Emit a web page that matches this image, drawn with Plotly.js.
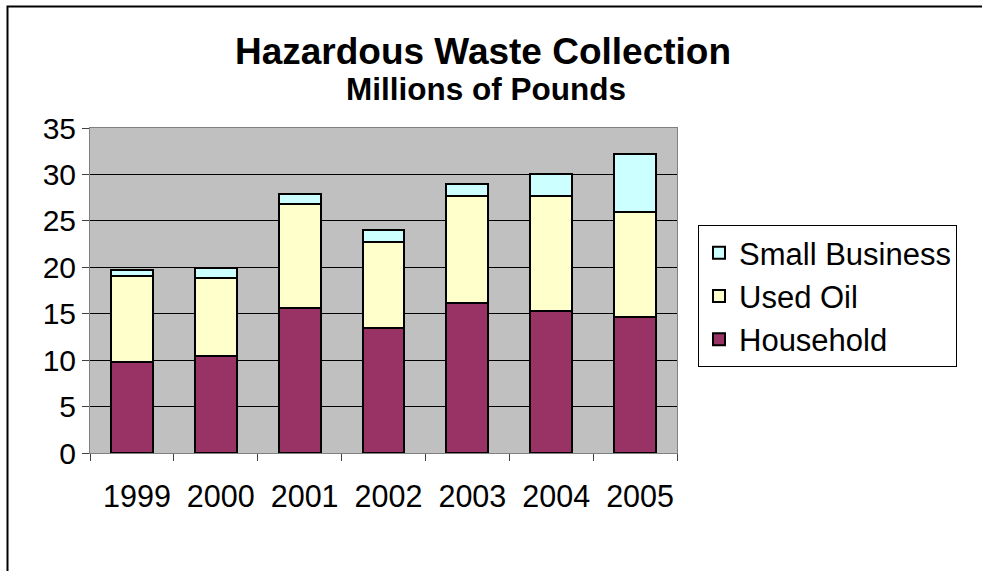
<!DOCTYPE html>
<html>
<head>
<meta charset="utf-8">
<script src="https://cdn.plot.ly/plotly-3.0.1.min.js"></script>
<style>html,body{margin:0;padding:0;background:#fff;}#chart{width:982px;height:571px;}</style>
</head>
<body>
<div id="chart"></div>
<script>
const years = ['1999', '2000', '2001', '2002', '2003', '2004', '2005'];
const household = [9.8, 10.5, 15.65, 13.5, 16.15, 15.25, 14.6];
const usedOil = [9.3, 8.3, 11.15, 9.2, 11.5, 12.4, 11.35];
const smallBusiness = [0.65, 1.15, 1.1, 1.35, 1.3, 2.4, 6.3];
const titleText = 'Hazardous Waste Collection';
const subtitleText = 'Millions of Pounds';

const FONT = '"Liberation Sans", Arial, sans-serif';
const lineStyle = {color: '#000000', width: 2};

const traces = [
  {type: 'bar', name: 'Household', x: years, y: household,
   marker: {color: '#993366', line: lineStyle}},
  {type: 'bar', name: 'Used Oil', x: years, y: usedOil,
   marker: {color: '#FFFFCC', line: lineStyle}},
  {type: 'bar', name: 'Small Business', x: years, y: smallBusiness,
   marker: {color: '#CCFFFF', line: lineStyle}}
];

const L = 90, R = 677, T = 128, B = 453, W = 982, H = 571;
const px2x = p => (p - L) / (R - L);
const px2y = p => (B - p) / (B - T);

const layout = {
  width: W, height: H,
  margin: {l: L, r: W - R, t: T, b: H - B, pad: 0},
  paper_bgcolor: '#ffffff',
  plot_bgcolor: '#C0C0C0',
  barmode: 'stack',
  bargap: 0.5,
  showlegend: true,
  font: {family: FONT, color: '#000000', size: 30},
  title: {
    text: '<b>' + titleText + '</b>',
    font: {family: FONT, size: 37, color: '#000000'},
    xref: 'container', x: 483 / W, xanchor: 'center',
    yref: 'container', y: 1 - 51 / H, yanchor: 'middle'
  },
  annotations: [{
    text: '<b>' + subtitleText + '</b>',
    xref: 'paper', yref: 'paper',
    x: px2x(486), y: px2y(89), xanchor: 'center', yanchor: 'middle',
    showarrow: false,
    font: {family: FONT, size: 31.5, color: '#000000'}
  }],
  xaxis: {
    type: 'category',
    showline: true, mirror: true, linecolor: '#808080', linewidth: 1,
    ticks: 'outside', tickson: 'boundaries', ticklen: 7, tickcolor: '#404040', tickwidth: 1,
    ticklabelstandoff: 16, ticklabelshift: 5,
    tickfont: {family: FONT, size: 30.5, color: '#000000'},
    showgrid: false, zeroline: false, fixedrange: true
  },
  yaxis: {
    range: [0, 35], dtick: 5, tick0: 0,
    showline: true, mirror: true, linecolor: '#808080', linewidth: 1,
    ticks: 'outside', ticklen: 7, tickcolor: '#404040', tickwidth: 1,
    tickfont: {family: FONT, size: 30, color: '#000000'},
    showgrid: true, gridcolor: '#000000', gridwidth: 1,
    zeroline: false, fixedrange: true
  },
  legend: {
    x: px2x(698), xanchor: 'left', xref: 'paper',
    y: px2y(225), yanchor: 'top', yref: 'paper',
    traceorder: 'reversed',
    bgcolor: '#ffffff', bordercolor: '#000000', borderwidth: 1,
    font: {family: FONT, size: 31, color: '#000000'},
    itemwidth: 30
  },
  shapes: [{
    type: 'rect', xref: 'paper', yref: 'paper',
    x0: px2x(7.5), x1: px2x(995), y0: px2y(600), y1: px2y(6.5),
    line: {color: '#000000', width: 2}, fillcolor: 'rgba(0,0,0,0)', layer: 'below'
  }]
};

Plotly.newPlot('chart', traces, layout, {displayModeBar: false, staticPlot: true});
</script>
</body>
</html>
